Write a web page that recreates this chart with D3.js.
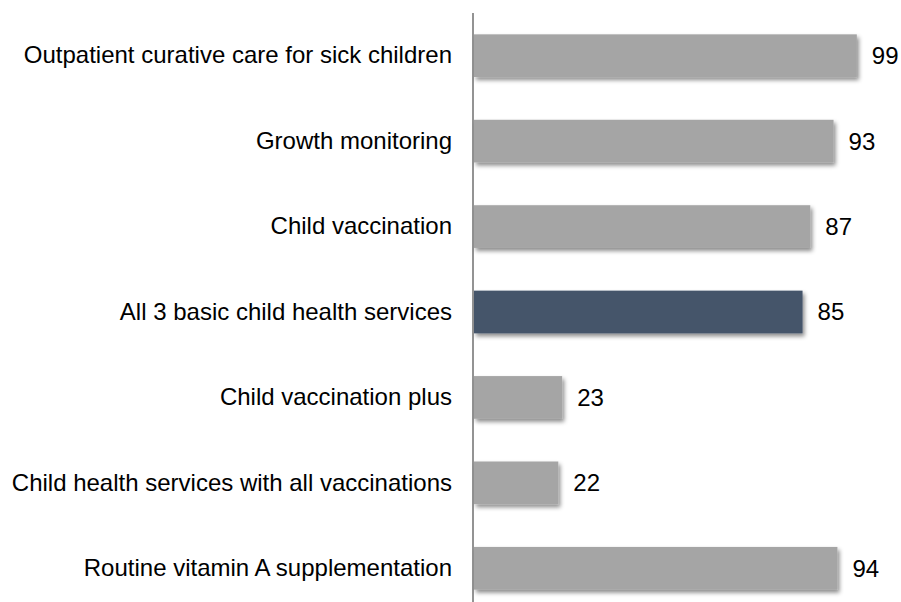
<!DOCTYPE html>
<html>
<head>
<meta charset="utf-8">
<script src="https://cdn.jsdelivr.net/npm/d3@7/dist/d3.min.js"></script>
<style>
  html, body { margin: 0; padding: 0; background: #fff; }
  svg { display: block; font-family: "Liberation Sans", Arial, sans-serif; }
</style>
</head>
<body>
<div id="chart"></div>
<script>
// Share of facilities offering each child health service (%)
const categories = [
  "Outpatient curative care for sick children",
  "Growth monitoring",
  "Child vaccination",
  "All 3 basic child health services",
  "Child vaccination plus",
  "Child health services with all vaccinations",
  "Routine vitamin A supplementation"
];
const values = [99, 93, 87, 85, 23, 22, 94];
const highlighted = ["All 3 basic child health services"];

const width = 901, height = 602;
const margin = { top: 13, left: 473 };
const plotBottom = 611; // band range runs slightly past the canvas edge
const fontSize = 24;

const svg = d3.select("#chart").append("svg")
  .attr("width", width)
  .attr("height", height);

// soft drop shadow under each bar
const defs = svg.append("defs");
const f = defs.append("filter").attr("id", "shadow")
  .attr("x", "-5%").attr("y", "-20%").attr("width", "115%").attr("height", "160%");
f.append("feDropShadow")
  .attr("dx", 2).attr("dy", 3).attr("stdDeviation", 2)
  .attr("flood-color", "#000").attr("flood-opacity", 0.45);

const x = d3.scaleLinear().domain([0, 100]).range([margin.left, margin.left + 387.7]);
const y = d3.scaleBand().domain(categories)
  .range([margin.top, plotBottom])
  .paddingInner(0.5).paddingOuter(0.25);

const data = categories.map((c, i) => ({ cat: c, val: values[i] }));

svg.append("g").selectAll("rect").data(data).join("rect")
  .attr("x", x(0) + 1)
  .attr("y", d => y(d.cat))
  .attr("width", d => x(d.val) - x(0) - 1)
  .attr("height", y.bandwidth())
  .attr("fill", d => highlighted.includes(d.cat) ? "#44546a" : "#a5a5a5")
  .attr("filter", "url(#shadow)");

// value labels
svg.append("g").selectAll("text").data(data).join("text")
  .attr("x", d => x(d.val) + 15)
  .attr("y", d => y(d.cat) + y.bandwidth() / 2)
  .attr("dy", "0.35em")
  .attr("font-size", fontSize)
  .attr("fill", "#000")
  .text(d => d.val);

// category axis
const axis = d3.axisLeft(y).tickSize(0).tickPadding(21);
const ag = svg.append("g").attr("transform", `translate(${x(0)},0)`).call(axis);
ag.select(".domain").remove();
ag.selectAll("text").attr("font-size", fontSize).attr("fill", "#000")
  .attr("font-family", "'Liberation Sans', Arial, sans-serif");

svg.append("line")
  .attr("x1", x(0)).attr("x2", x(0))
  .attr("y1", margin.top).attr("y2", height)
  .attr("stroke", "#595959").attr("stroke-width", 1.3);
</script>
</body>
</html>
